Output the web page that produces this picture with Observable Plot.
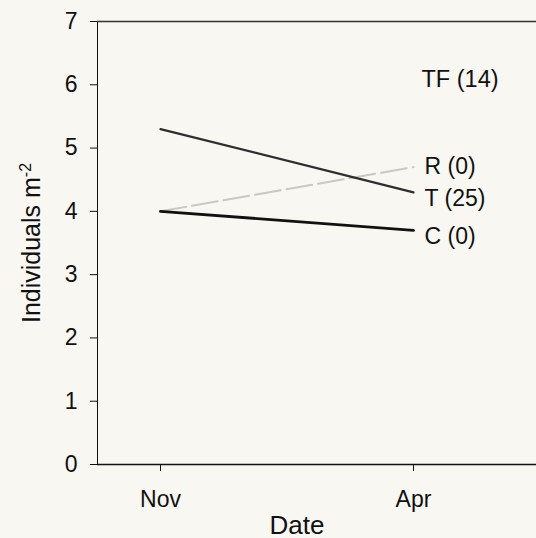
<!DOCTYPE html>
<html>
<head>
<meta charset="utf-8">
<script src="https://cdn.jsdelivr.net/npm/d3@7"></script>
<script src="https://cdn.jsdelivr.net/npm/@observablehq/plot@0.6"></script>
<style>
  html, body { margin: 0; padding: 0; background: #f8f7f2; }
  #chart svg { display: block; }
</style>
</head>
<body>
<div id="chart"></div>
<script>
// ---- data ----
const months = ["Nov", "Apr"];
const seriesT = [5.3, 4.3];
const seriesR = [4.0, 4.7];
const seriesC = [4.0, 3.7];
const endLabels = ["R (0)", "T (25)", "C (0)"];
const endLabelSeries = ["R", "T", "C"];
const extraLabel = "TF (14)";
const extraLabelValue = 6;
const yTicks = [0, 1, 2, 3, 4, 5, 6, 7];

const seriesMap = { T: seriesT, R: seriesR, C: seriesC };
const rows = [];
for (const [name, vals] of Object.entries(seriesMap)) {
  months.forEach((m, i) => rows.push({ series: name, month: m, value: vals[i] }));
}
const labelOffsets = { R: 0, T: 6, C: 6 };
const labelRows = endLabels.map((lab, i) => ({
  label: lab, series: endLabelSeries[i], month: months[1],
  value: seriesMap[endLabelSeries[i]][1]
}));

const font = "'Liberation Sans', Arial, Helvetica, sans-serif";

const plot = Plot.plot({
  width: 536,
  height: 538,
  marginLeft: 97,
  marginRight: 0,
  marginTop: 21,
  marginBottom: 74,
  style: { background: "#f8f7f2", fontFamily: font, fontSize: "23px", color: "#111" },
  x: { type: "point", domain: months, range: [160, 413], padding: 0, label: null, tickSize: 7, tickPadding: 19 },
  y: { domain: [0, 7], ticks: yTicks, label: null, tickSize: 7, tickPadding: 13, tickFormat: d3.format("d"), line: true },
  marks: [
    Plot.ruleY([7], { stroke: "#333", strokeWidth: 1.5 }),
    Plot.ruleY([0], { stroke: "#111", strokeWidth: 1.5 }),
    Plot.line(rows.filter(d => d.series === "R"), {
      x: "month", y: "value", stroke: "#c8c8c4", strokeWidth: 2, strokeDasharray: "26,6"
    }),
    Plot.line(rows.filter(d => d.series === "T"), {
      x: "month", y: "value", stroke: "#2e2e2e", strokeWidth: 2.2
    }),
    Plot.line(rows.filter(d => d.series === "C"), {
      x: "month", y: "value", stroke: "#111", strokeWidth: 2.8
    }),
    ...labelRows.map(r => Plot.text([r], {
      x: "month", y: "value", text: "label", textAnchor: "start", dx: 11,
      dy: labelOffsets[r.series], fill: "#111", fontSize: 23
    })),
    Plot.text([extraLabel], {
      x: () => months[1], y: () => extraLabelValue, text: d => d, textAnchor: "start",
      dx: 8, dy: -5, fill: "#111", fontSize: 23.5
    }),
    Plot.text(["Date"], {
      frameAnchor: "bottom", text: d => d, dx: -20, dy: 69, fill: "#111", fontSize: 26,
      lineAnchor: "bottom"
    })
  ]
});

document.getElementById("chart").appendChild(plot);

// y-axis title with superscript
const svg = d3.select(plot);
const yl = svg.append("text")
  .attr("transform", "translate(40,243) rotate(-90)")
  .attr("text-anchor", "middle")
  .attr("fill", "#111")
  .style("font-family", font)
  .style("font-size", "25px");
yl.append("tspan").text("Individuals m");
yl.append("tspan").attr("dy", "-0.55em").style("font-size", "16px").text("-2");
</script>
</body>
</html>
